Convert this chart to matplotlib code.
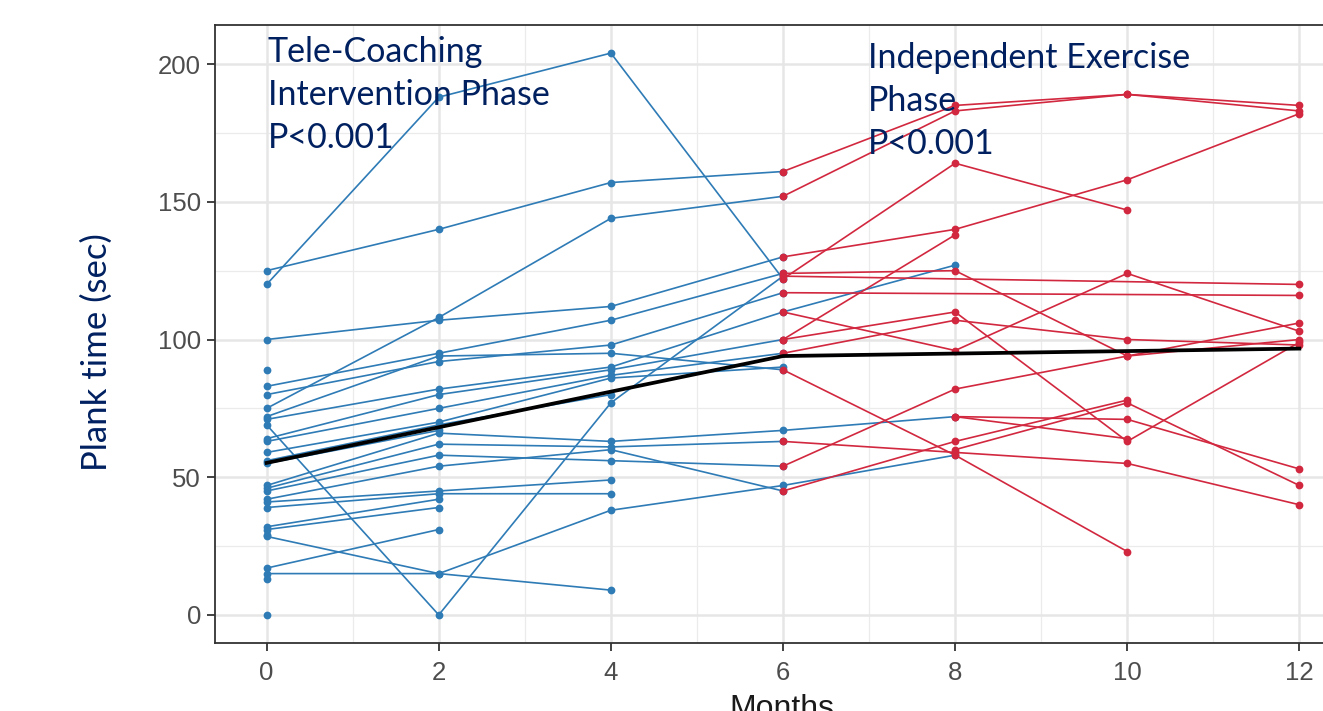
import numpy as np
import matplotlib
matplotlib.use("Agg")
import matplotlib.pyplot as plt

nan = np.nan
months = [0, 2, 4, 6, 8, 10, 12]

# Tele-coaching phase (blue): values at months 0, 2, 4, 6, 8
blue_subjects = [
    [125, 140, 157, 161, nan],
    [120, 188, 204, 122, nan],
    [100, 107, 112, 130, nan],
    [89, nan, nan, nan, nan],
    [83, 95, 107, 124, nan],
    [80, 92, 98, 117, nan],
    [75, 108, 144, 152, nan],
    [72, 94, 95, 89, nan],
    [71, 82, 90, 110, 127],
    [69, 0, 77, 123, nan],
    [64, 80, 89, 100, nan],
    [63, 75, 87, 95, nan],
    [59, 70, 86, 90, nan],
    [56, 69, 80, nan, nan],
    [55, 67, nan, nan, nan],
    [47, 66, 63, 67, 72],
    [46, 62, 61, 63, nan],
    [45, 58, 56, 54, nan],
    [42, 54, 60, 45, nan],
    [41, 45, 49, nan, nan],
    [39, 44, 44, nan, nan],
    [32, 42, nan, nan, nan],
    [31, 39, nan, nan, nan],
    [29, nan, nan, nan, nan],
    [28.5, 15, 9, nan, nan],
    [17, 31, nan, nan, nan],
    [15, 15, 38, 47, 58],
    [13, nan, nan, nan, nan],
    [0, nan, nan, nan, nan],
]

# Independent exercise phase (red): values at months 6, 8, 10, 12
red_subjects = [
    [161, 185, 189, 185],
    [152, 183, 189, 183],
    [130, 140, 158, 182],
    [122, 164, 147, nan],
    [100, 138, nan, nan],
    [123, nan, nan, 120],
    [117, nan, nan, 116],
    [124, 125, 94, 106],
    [100, 110, 63, 99],
    [95, 107, 100, 98],
    [110, 96, 124, 103],
    [54, 82, 94, 100],
    [nan, 72, 71, 53],
    [nan, 72, 64, nan],
    [63, 59, 55, 40],
    [45, 63, 78, nan],
    [89, 58, 23, nan],
    [nan, 60, 77, 47],
]

mean_months = [0, 6, 12]
mean_values = [55.2, 94.0, 96.7]

yticks = [0, 50, 100, 150, 200]
xticks = [0, 2, 4, 6, 8, 10, 12]

BLUE = "#2e7bb6"
RED = "#d2283f"
NAVY = "#002060"

W, H = 1323, 711
fig = plt.figure(figsize=(W / 100, H / 100), dpi=100)
ax = fig.add_axes([215 / W, (H - 643) / H, (1351 - 215) / W, (643 - 25) / H])

ax.set_xlim(-0.6, 12.6)
ax.set_ylim(-10.2, 214.2)

# grid
for v in [1, 3, 5, 7, 9, 11]:
    ax.axvline(v, color="#ebebeb", lw=0.9, zorder=0)
for v in [25, 75, 125, 175]:
    ax.axhline(v, color="#ebebeb", lw=0.9, zorder=0)
for v in xticks:
    ax.axvline(v, color="#e6e6e6", lw=1.8, zorder=0)
for v in yticks:
    ax.axhline(v, color="#e6e6e6", lw=1.8, zorder=0)


def draw(xs, ys, color):
    xs = np.array(xs, dtype=float)
    ys = np.array(ys, dtype=float)
    m = ~np.isnan(ys)
    ax.plot(xs[m], ys[m], color=color, lw=1.2, marker="o", ms=5.6,
            markeredgewidth=0, zorder=3)


for s in blue_subjects:
    draw(months[:5], s, BLUE)
for s in red_subjects:
    draw(months[3:], s, RED)

ax.plot(mean_months, mean_values, color="black", lw=2.7, zorder=5)

ax.set_xticks(xticks)
ax.set_yticks(yticks)
tick_font = ["Liberation Sans", "DejaVu Sans"]
ax.set_xticklabels([str(t) for t in xticks], family=tick_font, fontsize=18.5, color="#4d4d4d")
ax.set_yticklabels([str(t) for t in yticks], family=tick_font, fontsize=18.5, color="#4d4d4d")
ax.tick_params(axis="x", length=6, width=1.3, color="#333333", pad=7)
ax.tick_params(axis="y", length=6, width=1.3, color="#333333", pad=4)

for sp in ax.spines.values():
    sp.set_color("#333333")
    sp.set_linewidth(1.3)

ax.set_ylabel("Plank time (sec)", family=["Lato", "DejaVu Sans"], fontsize=25, color=NAVY)
ax.yaxis.set_label_coords(-(215 - 97) / (1351 - 215), 0.5 - 18 / 618)
ax.yaxis.label.set_va("center")

fig.text(782 / W, (H - 694) / H, "Months", family=tick_font, fontsize=23,
         color="#1a1a1a", ha="center", va="top")

txt_font = ["Lato", "DejaVu Sans"]
fig.text(268 / W, 1 - 36 / H, "Tele-Coaching\nIntervention Phase\nP<0.001",
         family=txt_font, fontsize=24.5, color=NAVY, ha="left", va="top", linespacing=1.42)
fig.text(868 / W, 1 - 42 / H, "Independent Exercise\nPhase\nP<0.001",
         family=txt_font, fontsize=24.5, color=NAVY, ha="left", va="top", linespacing=1.42)

fig.savefig("out.png", dpi=100)
